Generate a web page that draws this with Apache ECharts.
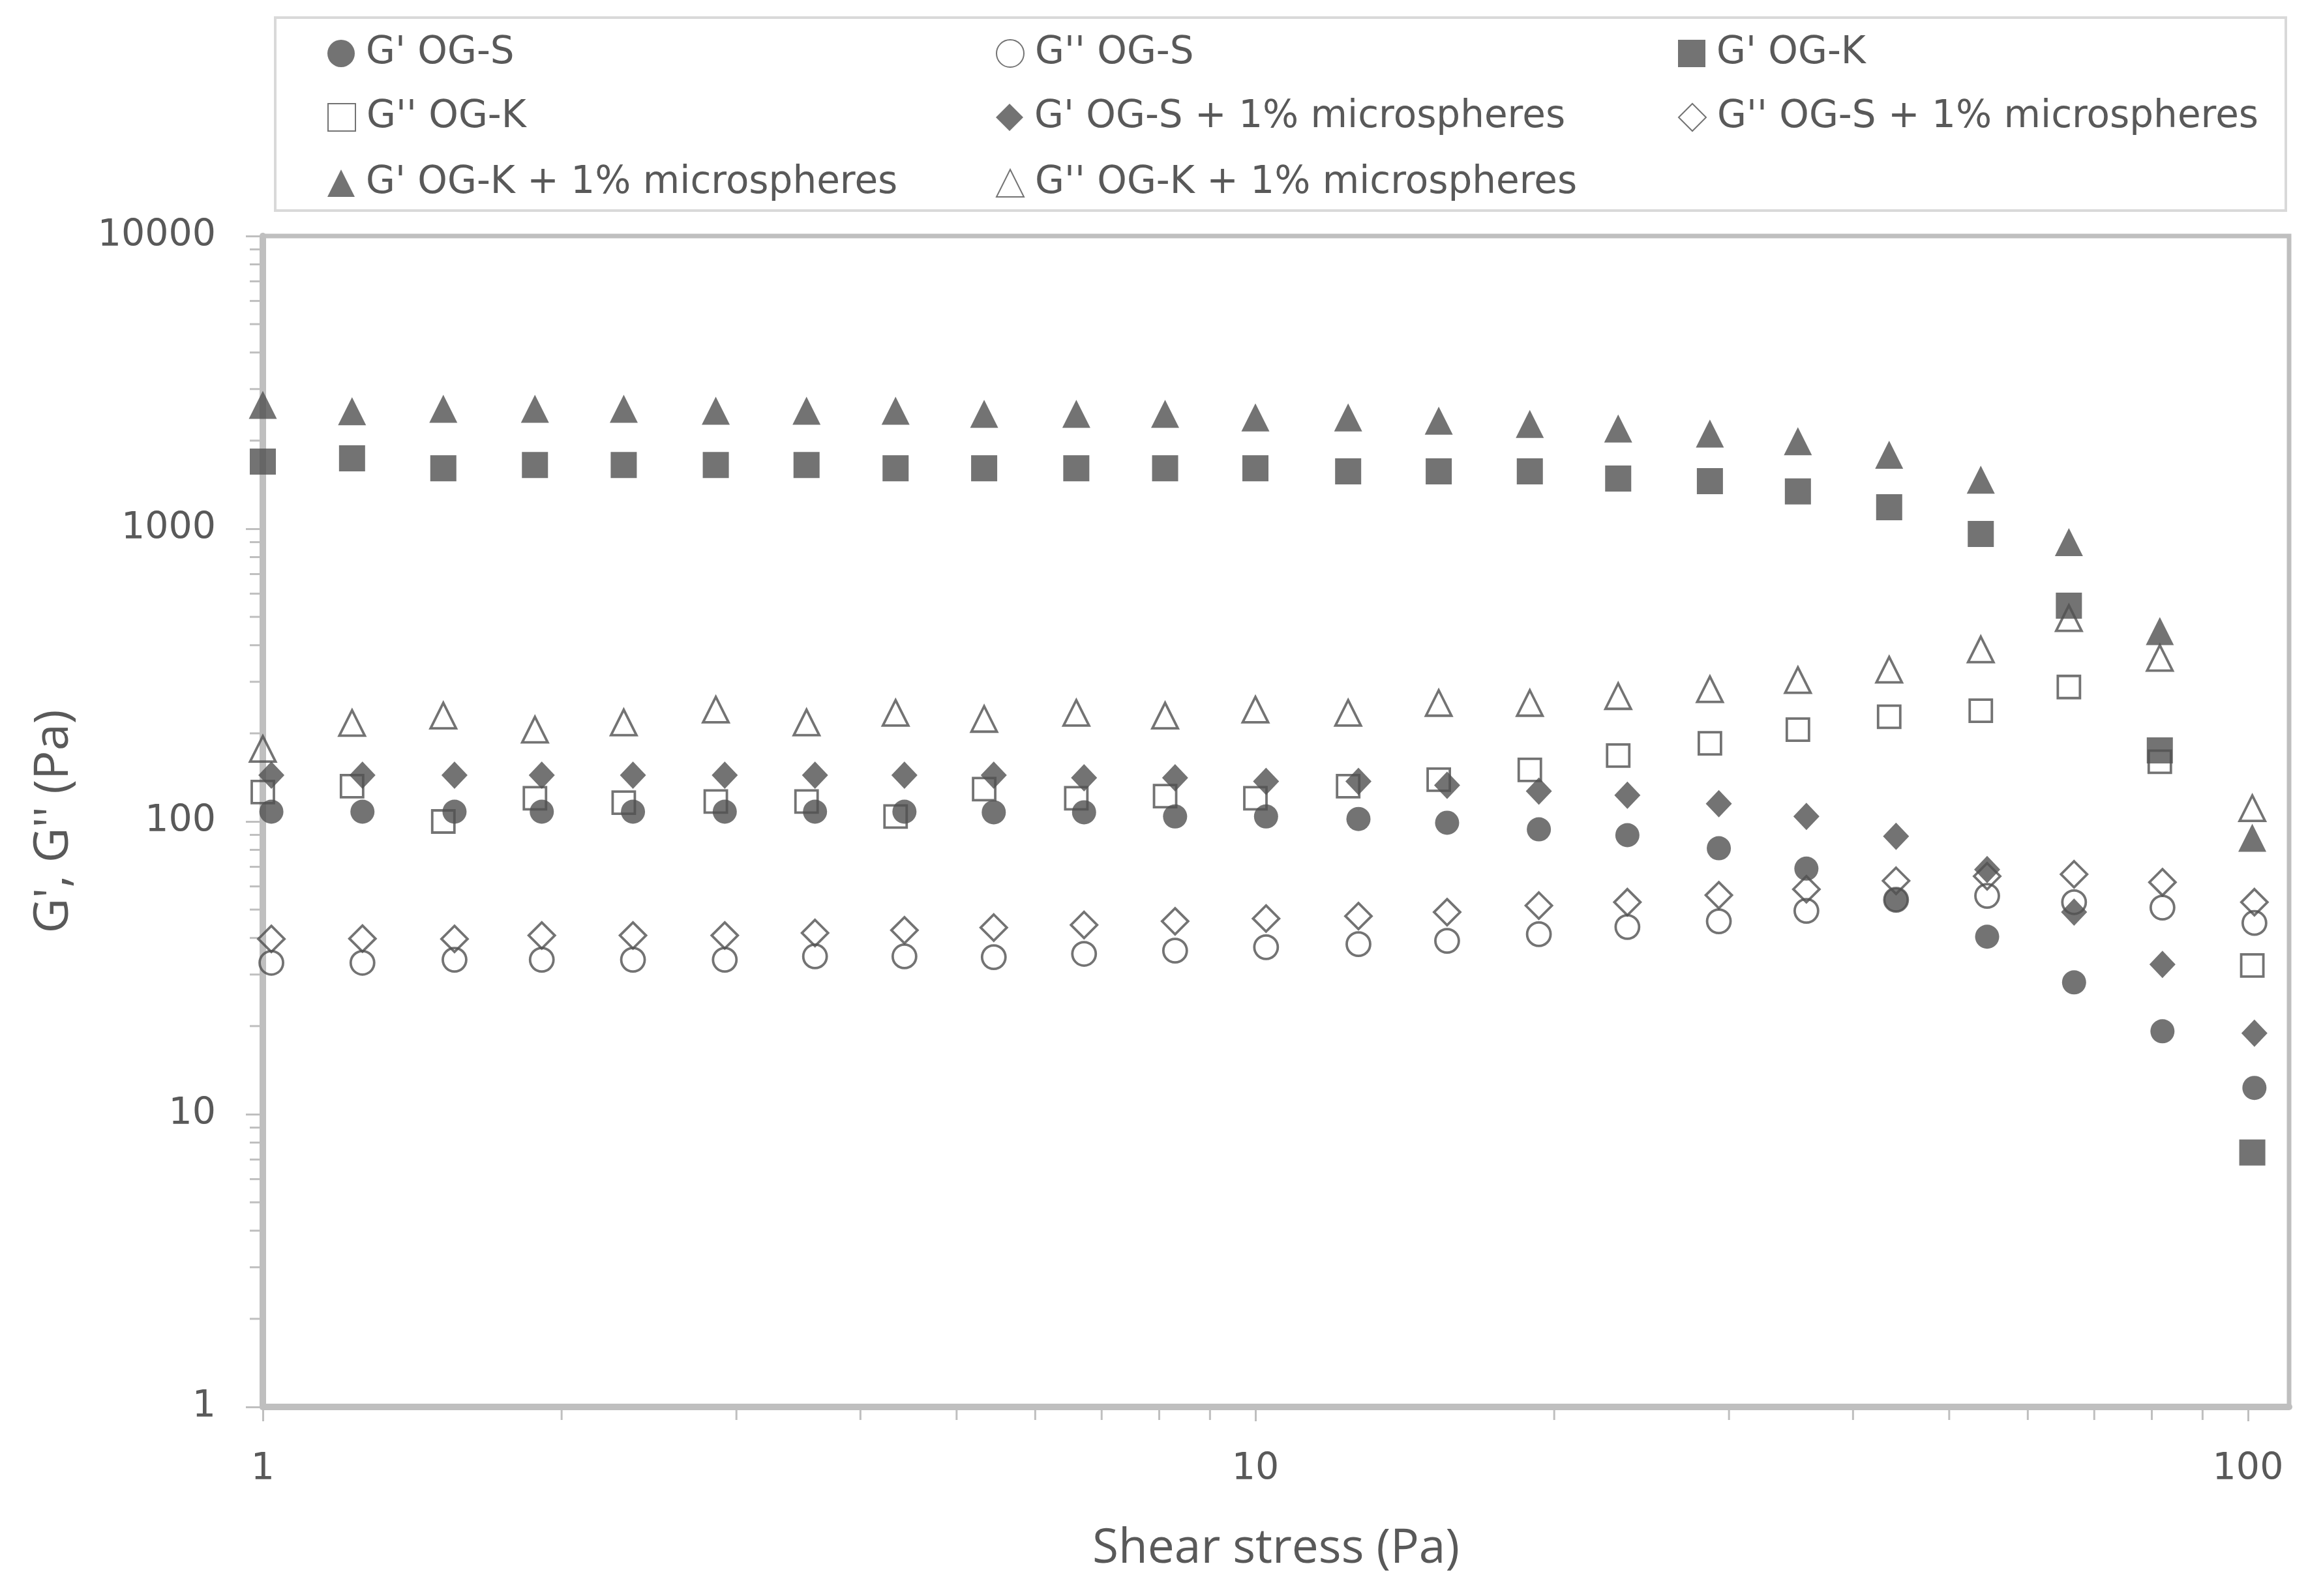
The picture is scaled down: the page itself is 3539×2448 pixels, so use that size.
<!DOCTYPE html>
<html>
<head>
<meta charset="utf-8">
<title>G', G'' vs shear stress</title>
<script src="https://cdn.jsdelivr.net/npm/echarts@6/dist/echarts.min.js"></script>
<style>
  html, body { margin: 0; padding: 0; background: #fff; }
  #chart { width: 3539px; height: 2448px; }
</style>
</head>
<body>
<div id="chart"></div>
<script>
// shear stress steps (Pa), OG-K samples sit a little left of the OG-S ones
var stressK = [1.00, 1.23, 1.52, 1.88, 2.31, 2.86, 3.53, 4.34, 5.33, 6.60, 8.11, 10.0,
               12.4, 15.3, 18.9, 23.2, 28.7, 35.2, 43.5, 53.8, 66.0, 81.5, 101];
var stressS = [1.02, 1.26, 1.56, 1.91, 2.36, 2.92, 3.60, 4.43, 5.45, 6.72, 8.30, 10.25,
               12.7, 15.6, 19.3, 23.7, 29.3, 35.9, 44.2, 54.6, 66.8, 82.0, 101.5];

// G' / G'' (Pa)
var gpS   = [108, 108, 108, 108, 108, 108, 108, 108, 107.5, 107.5, 104, 104,
             102, 99, 94, 89.8, 81, 69, 54, 40.4, 28.2, 19.2, 12.3];
var gppS  = [32.9, 32.9, 33.7, 33.7, 33.7, 33.7, 34.6, 34.6, 34.4, 35.3, 36.2, 37.2,
             38.1, 39.1, 41.2, 43.6, 45.6, 49.5, 54, 55.7, 53, 50.8, 45];
var gpK   = [1695, 1740, 1610, 1650, 1650, 1650, 1650, 1610, 1610, 1610, 1610, 1610,
             1570, 1570, 1570, 1484, 1454, 1341, 1184, 960, 546, 175, 7.4];
var gppK  = [126, 132, 100, 120, 116, 117, 117, 104, 129, 120, 122, 120,
             132, 139, 150, 168, 185, 206, 228, 239, 288, 160, 32.2];
var gpS1  = [144, 144, 144, 144, 144, 144, 144, 144, 144, 141, 141, 137,
             137, 133, 127, 123, 115, 104, 89, 68.5, 49, 32.5, 18.9];
var gppS1 = [39.7, 39.8, 39.7, 40.8, 40.8, 40.8, 41.6, 42.5, 43.4, 44.3, 45.6, 46.6,
             47.5, 49, 51.6, 53, 56, 58.7, 62.7, 65, 66, 62, 53];
var gpK1  = [2650, 2520, 2570, 2570, 2570, 2530, 2530, 2530, 2470, 2470, 2470, 2400,
             2400, 2340, 2280, 2200, 2115, 1990, 1790, 1470, 900, 447, 88];
var gppK1 = [177, 217, 230, 206, 218, 241, 218, 235, 224, 235, 230, 241,
             235, 254, 254, 268, 283, 304, 330, 387, 495, 362, 111];

// minor tick positions of the log axes
var xMinor = [2, 3, 4, 5, 6, 7, 8, 9, 20, 30, 40, 50, 60, 70, 80, 90];
var yMinor = [2, 3, 4, 5, 6, 7, 8, 9, 20, 30, 40, 50, 60, 70, 80, 90,
              200, 300, 400, 500, 600, 700, 800, 900,
              2000, 3000, 4000, 5000, 6000, 7000, 8000, 9000];

var INK = '#505050';
var TEXT = '#595959';
var AXIS = '#bfbfbf';

var defs = [
  {name: "G' OG-S", x: stressS, y: gpS, symbol: 'circle', size: 37, filled: true},
  {name: "G'' OG-S", x: stressS, y: gppS, symbol: 'circle', size: 36, filled: false},
  {name: "G' OG-K", x: stressK, y: gpK, symbol: 'rect', size: 40, filled: true},
  {name: "G'' OG-K", x: stressK, y: gppK, symbol: 'rect', size: 34, filled: false},
  {name: "G' OG-S + 1% microspheres", x: stressS, y: gpS1, symbol: 'diamond', size: [40, 42], filled: true},
  {name: "G'' OG-S + 1% microspheres", x: stressS, y: gppS1, symbol: 'diamond', size: [40, 40], filled: false},
  {name: "G' OG-K + 1% microspheres", x: stressK, y: gpK1, symbol: 'triangle', size: 43, filled: true},
  {name: "G'' OG-K + 1% microspheres", x: stressK, y: gppK1, symbol: 'triangle', size: 39, filled: false}
];

// legend slot for each series: [left of icon box, top]
var legendPos = [
  [497, 48], [1522, 48], [2568, 48],
  [497, 146], [1522, 146], [2568, 146],
  [497, 247], [1522, 247]
];

function isPow10(v) {
  var e = Math.log10(v);
  return Math.abs(e - Math.round(e)) < 1e-6;
}

var series = defs.map(function (d) {
  return {
    name: d.name,
    type: 'scatter',
    symbol: d.symbol,
    symbolSize: d.size,
    data: d.x.map(function (xv, i) { return [xv, d.y[i]]; }),
    itemStyle: d.filled
      ? {color: INK}
      : {color: 'rgba(255,255,255,0)', borderColor: INK, borderWidth: 3.8},
    emphasis: {disabled: true}
  };
});

// minor ticks, placed through the axes' own scales
series.push({
  type: 'custom',
  silent: true,
  clip: false,
  data: yMinor.map(function (v) { return [1, v]; }),
  renderItem: function (params, api) {
    var p = api.coord([api.value(0), api.value(1)]);
    return {type: 'line', shape: {x1: p[0] - 4, y1: p[1], x2: p[0] - 20, y2: p[1]},
            style: {stroke: AXIS, lineWidth: 3}};
  }
});
series.push({
  type: 'custom',
  silent: true,
  clip: false,
  data: xMinor.map(function (v) { return [v, 1]; }),
  renderItem: function (params, api) {
    var p = api.coord([api.value(0), api.value(1)]);
    return {type: 'line', shape: {x1: p[0], y1: p[1] + 4, x2: p[0], y2: p[1] + 20},
            style: {stroke: AXIS, lineWidth: 3}};
  }
});

var legends = defs.map(function (d, i) {
  return {
    data: [d.name],
    left: legendPos[i][0],
    top: legendPos[i][1],
    itemWidth: 42,
    itemHeight: 42,
    selectedMode: false,
    textStyle: {
      fontFamily: 'DejaVu Sans',
      fontSize: 58,
      lineHeight: 58,
      color: TEXT,
      padding: [0, 0, 0, 12]
    }
  };
});

var chart = echarts.init(document.getElementById('chart'));
chart.setOption({
  backgroundColor: '#fff',
  animation: false,
  graphic: [{
    type: 'rect',
    shape: {x: 422, y: 27, width: 3083, height: 296},
    style: {fill: 'none', stroke: '#d9d9d9', lineWidth: 4},
    silent: true
  }],
  legend: legends,
  grid: {
    left: 403, right: 29, top: 362, bottom: 290,
    show: true, borderColor: AXIS, borderWidth: 7,
    containLabel: false
  },
  xAxis: {
    type: 'log',
    logBase: 10,
    min: 1,
    max: 110,
    interval: 1,
    name: 'Shear stress (Pa)',
    nameLocation: 'middle',
    nameGap: 182,
    nameTextStyle: {fontFamily: 'Open Sans', fontSize: 73, color: TEXT},
    axisLine: {lineStyle: {color: AXIS, width: 10}},
    axisTick: {show: true, inside: false, length: 22, lineStyle: {color: AXIS, width: 3}},
    axisLabel: {
      margin: 68,
      fontFamily: 'DejaVu Sans',
      fontSize: 57,
      color: TEXT,
      showMaxLabel: false,
      formatter: function (v) { return isPow10(v) ? String(Math.round(v)) : ''; }
    },
    splitLine: {show: false}
  },
  yAxis: {
    type: 'log',
    logBase: 10,
    min: 1,
    max: 10000,
    interval: 1,
    name: "G', G'' (Pa)",
    nameLocation: 'middle',
    nameGap: 283,
    nameTextStyle: {fontFamily: 'Open Sans', fontSize: 74, color: TEXT},
    axisLine: {lineStyle: {color: AXIS, width: 10}},
    axisTick: {show: true, inside: false, length: 26, lineStyle: {color: AXIS, width: 3}},
    axisLabel: {
      margin: 72,
      fontFamily: 'DejaVu Sans',
      fontSize: 57,
      color: TEXT,
      formatter: function (v) { return String(Math.round(v)); }
    },
    splitLine: {show: false}
  },
  series: series
});
</script>
</body>
</html>
